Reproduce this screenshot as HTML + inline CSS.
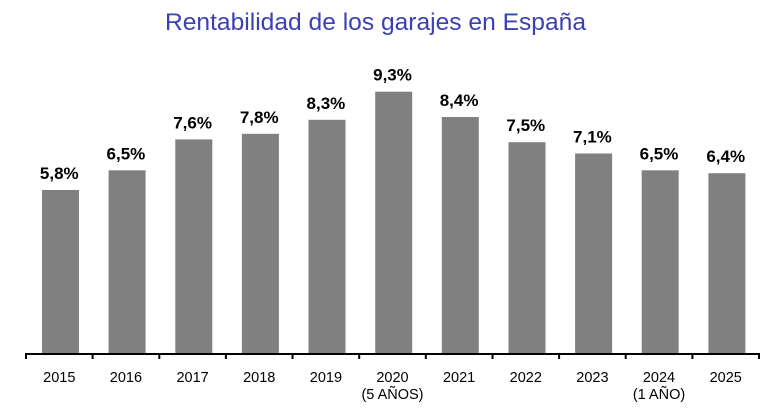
<!DOCTYPE html>
<html><head><meta charset="utf-8"><style>body{margin:0;background:#fff}svg{display:block}</style></head>
<body>
<svg width="775" height="420" xmlns="http://www.w3.org/2000/svg" font-family="Liberation Sans, sans-serif">
<text x="165" y="30" font-size="24" fill="#3b40b4" textLength="421" lengthAdjust="spacingAndGlyphs">Rentabilidad de los garajes en España</text>
<g fill="#808080">
<rect x="42" y="190" width="37" height="163"/>
<rect x="108.6" y="170.3" width="37" height="182.7"/>
<rect x="175.3" y="139.4" width="37" height="213.6"/>
<rect x="241.9" y="133.8" width="37" height="219.2"/>
<rect x="308.5" y="119.8" width="37" height="233.2"/>
<rect x="375.2" y="91.7" width="37" height="261.3"/>
<rect x="441.8" y="117" width="37" height="236"/>
<rect x="508.5" y="142.2" width="37" height="210.8"/>
<rect x="575.1" y="153.5" width="37" height="199.5"/>
<rect x="641.7" y="170.3" width="37" height="182.7"/>
<rect x="708.4" y="173.2" width="37" height="179.8"/>
</g>
<g font-size="17" font-weight="bold" text-anchor="middle" fill="#000">
<text x="59.3" y="179">5,8%</text>
<text x="125.9" y="159.3">6,5%</text>
<text x="192.6" y="128.4">7,6%</text>
<text x="259.2" y="122.8">7,8%</text>
<text x="325.9" y="108.8">8,3%</text>
<text x="392.5" y="80.7">9,3%</text>
<text x="459.1" y="106">8,4%</text>
<text x="525.8" y="131.2">7,5%</text>
<text x="592.4" y="142.5">7,1%</text>
<text x="659" y="159.3">6,5%</text>
<text x="725.7" y="162.2">6,4%</text>
</g>
<g font-size="14.5" text-anchor="middle" fill="#000">
<text x="59.3" y="382">2015</text>
<text x="125.9" y="382">2016</text>
<text x="192.6" y="382">2017</text>
<text x="259.2" y="382">2018</text>
<text x="325.9" y="382">2019</text>
<text x="392.5" y="382">2020</text>
<text x="392.5" y="399">(5 AÑOS)</text>
<text x="459.1" y="382">2021</text>
<text x="525.8" y="382">2022</text>
<text x="592.4" y="382">2023</text>
<text x="659" y="382">2024</text>
<text x="659" y="399">(1 AÑO)</text>
<text x="725.7" y="382">2025</text>
</g>
<line x1="26" y1="354" x2="759" y2="354" stroke="#000" stroke-width="2"/>
<g stroke="#000" stroke-width="2">
<line x1="26" y1="353" x2="26" y2="359"/>
<line x1="92.6" y1="353" x2="92.6" y2="359"/>
<line x1="159.3" y1="353" x2="159.3" y2="359"/>
<line x1="225.9" y1="353" x2="225.9" y2="359"/>
<line x1="292.5" y1="353" x2="292.5" y2="359"/>
<line x1="359.2" y1="353" x2="359.2" y2="359"/>
<line x1="425.8" y1="353" x2="425.8" y2="359"/>
<line x1="492.5" y1="353" x2="492.5" y2="359"/>
<line x1="559.1" y1="353" x2="559.1" y2="359"/>
<line x1="625.7" y1="353" x2="625.7" y2="359"/>
<line x1="692.4" y1="353" x2="692.4" y2="359"/>
<line x1="759" y1="353" x2="759" y2="359"/>
</g>
</svg>
</body></html>
